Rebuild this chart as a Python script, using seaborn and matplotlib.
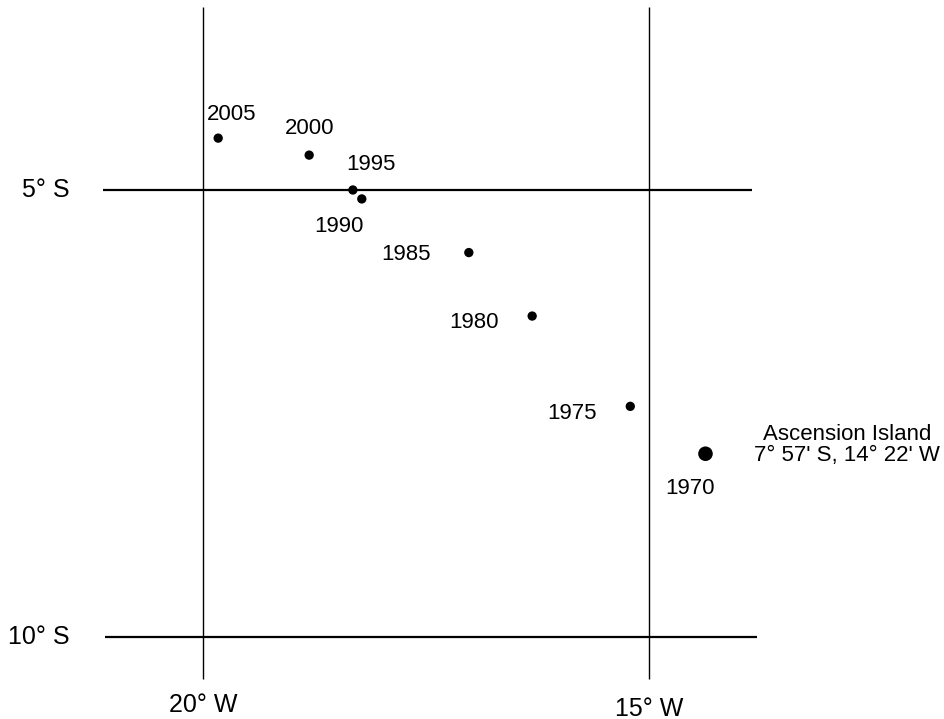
import matplotlib
matplotlib.use("Agg")
import matplotlib.pyplot as plt
import seaborn as sns
import pandas as pd

# ---- data ----
years = ["2005", "2000", "1995", "1990", "1985", "1980", "1975", "1970"]
lon = [-19.83, -18.81, -18.32, -18.22, -17.02, -16.31, -15.21, -14.37]
lat = [-4.42, -4.61, -5.00, -5.10, -5.70, -6.41, -7.42, -7.95]
island_name = "Ascension Island"
island_coord_label = "7° 57' S, 14° 22' W"
island_lon = [-14.367]
island_lat = [-7.95]
meridians = [-20, -15]
meridian_labels = ["20° W", "15° W"]
parallels = [-5, -10]
parallel_labels = ["5° S", "10° S"]

sns.set_style("white")
plt.rcParams['font.family'] = ['Liberation Sans', 'DejaVu Sans']
plt.rcParams['text.color'] = 'black'

df = pd.DataFrame({"year": years, "lon": lon, "lat": lat})

fig = plt.figure(figsize=(9.44, 7.19), dpi=100)
ax = fig.add_axes([0, 0, 1, 1])
ax.set_xlim(-22.276, -11.693)
ax.set_ylim(-10.917, -2.875)
ax.axis("off")

# grid lines
ax.vlines(meridians, ymin=-10.47, ymax=-2.953, color="black", lw=1.0)
ax.hlines(parallels[0], -21.12, -13.85, color="black", lw=1.6)
ax.hlines(parallels[1], -21.10, -13.79, color="black", lw=1.6)

# points
sns.scatterplot(data=df, x="lon", y="lat", color="black", s=45,
                edgecolor="none", ax=ax, legend=False, zorder=3)
sns.scatterplot(x=island_lon, y=island_lat, color="black", s=110,
                marker="o", edgecolor="none", ax=ax, legend=False, zorder=3)

# year labels (offsets in points)
offsets = [(10, 17), (0, 19.5), (13, 18), (-16.5, -19.5), (-45, -1.5),
           (-42, -5), (-42, -5), (-11, -25)]
for yr, x, y, off in zip(years, lon, lat, offsets):
    ax.annotate(yr, (x, y), xytext=off, textcoords="offset points",
                ha="center", va="center", fontsize=16, color="black")

ax.annotate(island_name + "\n" + island_coord_label,
            (island_lon[0], island_lat[0]), xytext=(102, 6),
            textcoords="offset points", ha="center", va="center",
            fontsize=16, linespacing=1.0, color="black")

for p, lab in zip(parallels, parallel_labels):
    ax.text(-21.49, p, lab, ha="right", va="center", fontsize=18, color="black")
for m, lab, yy in zip(meridians, meridian_labels, [-10.76, -10.80]):
    ax.text(m, yy, lab, ha="center", va="center", fontsize=18, color="black")

fig.savefig("out.png", dpi=100)
